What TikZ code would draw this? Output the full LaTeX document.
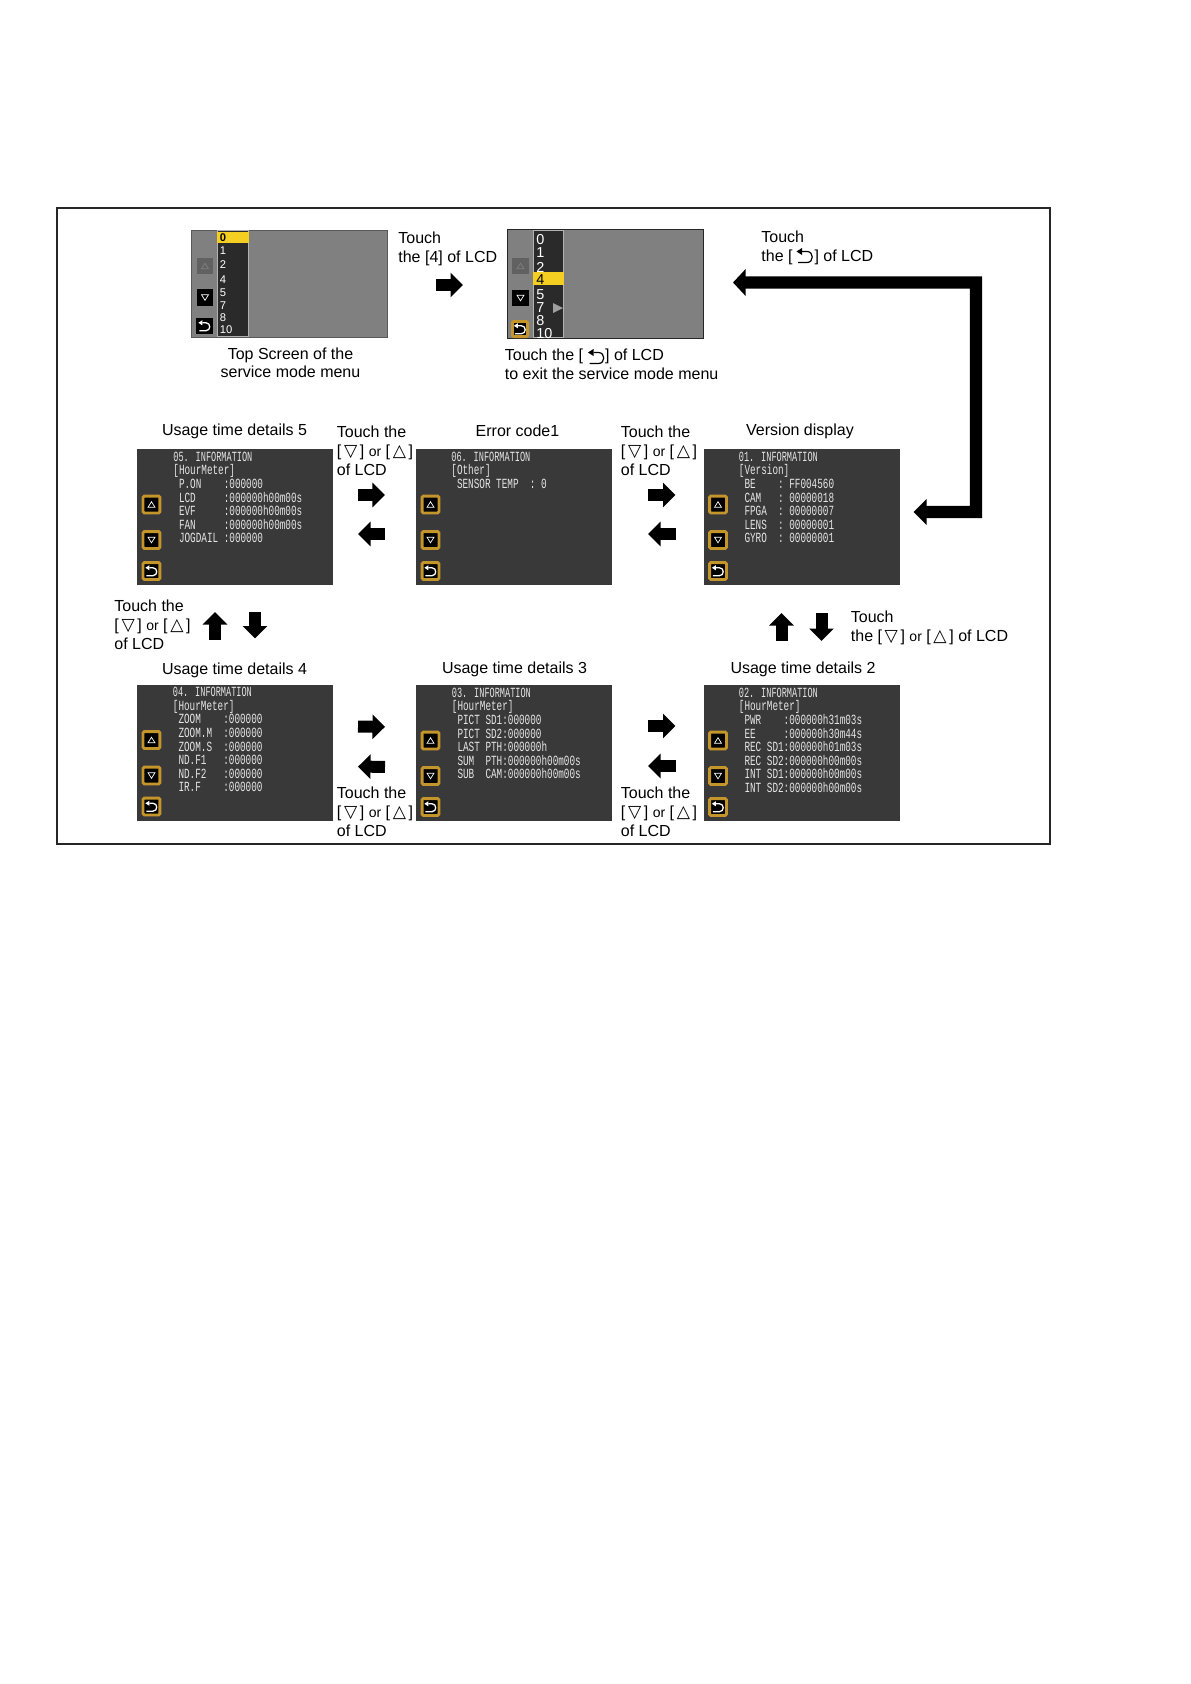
\documentclass[tikz,border=0pt]{standalone}
\usepackage{fontspec}
\setmainfont{Liberation Sans}
\newfontfamily\lcdbody[FakeStretch=0.667]{Liberation Mono}
\newfontfamily\lcdhead[FakeStretch=0.613]{Liberation Mono}
\newfontfamily\symfont{DejaVu Sans}
\usetikzlibrary{arrows.meta}
\definecolor{lcdgray}{HTML}{808080}
\definecolor{lcddark}{HTML}{393939}
\definecolor{lcdlist}{HTML}{2A2A2A}
\definecolor{lcdgold}{HTML}{C4952B}
\definecolor{lcdyellow}{HTML}{F4CF21}
\newcommand{\tridn}{[\,{\symfont\fontsize{8.6bp}{9bp}\selectfont ▽}\,]}
\newcommand{\triup}{[\,{\symfont\fontsize{8.6bp}{9bp}\selectfont △}\,]}
\newcommand{\smallor}{{\fontsize{7bp}{9bp}\selectfont or}}
\tikzset{
  lcdscreen/.style={fill=lcddark,minimum width=98bp,minimum height=68bp,inner sep=0pt,outer sep=0pt},
  menuscreen/.style={fill=lcdgray,line width=0.4bp,minimum width=98bp,inner sep=0pt,outer sep=0pt},
  lcdbtn/.style={fill=black,draw=lcdgold,line width=1.4bp,rounded corners=0.6bp,minimum size=8.4bp,inner sep=0pt,outer sep=0pt},
  menubtn/.style={fill=black,minimum size=8.2bp,inner sep=0pt,outer sep=0pt},
  lcdtext/.style={anchor=north west,align=left,text=white!90!black,inner sep=0pt,font=\lcdbody\fontsize{7bp}{6.8bp}\selectfont},
  menutext/.style={anchor=west,inner sep=0pt,text=white},
  caption/.style={inner sep=0pt,font=\fontsize{8bp}{9.5bp}\selectfont},
  touchtext/.style={caption,anchor=north west,align=left},
  blockarrow/.style={line width=6bp,-{Triangle[length=6.25bp,width=12bp]}},
  upicon/.pic={\draw[pic actions] (-3.5,2.8) -- (3.5,2.8) -- (0,-2.8) -- cycle;},
  dnicon/.pic={\draw[pic actions] (-3.5,-2.8) -- (3.5,-2.8) -- (0,2.8) -- cycle;},
  backicon/.pic={
    \fill[pic actions,draw=none] (-8.5,-4.5) -- (-3,-8) -- (-3,-1) -- cycle;
    \draw[pic actions,fill=none] (-3,-4.5) -- (2,-4.5) .. controls (9,-4.5) and (9,6.5) .. (2,6.5) -- (-7,6.5);
  }
}
\newcommand{\lcdbuttons}[1]{
  \node[lcdbtn] (#1up) at ([shift={(14.5,55.5)}]#1.north west) {};
  \node[lcdbtn] (#1dn) at ([shift={(14.5,91)}]#1.north west) {};
  \node[lcdbtn] (#1bk) at ([shift={(14.5,122)}]#1.north west) {};
  \pic[draw=white,line width=0.35bp] at (#1up) {upicon};
  \pic[draw=white,line width=0.35bp] at (#1dn) {dnicon};
  \pic[draw=white,fill=white,line width=0.65bp,scale=0.72] at (#1bk) {backicon};
}
\begin{document}
\begin{tikzpicture}[x=0.5bp,y=-0.5bp]
\useasboundingbox (0,0) rectangle (1191,1684);
\draw[line width=1bp,black!85] (57,208) rectangle (1050,844);

\node[menuscreen,draw=black!65,minimum height=53.5bp] (ms0) at (289,283.5) {};
\node[menuscreen,draw=black!85,minimum height=54.5bp] (ms1) at (605,283.5) {};

\fill[lcdlist,draw=gray!60,line width=0.5bp] (217,230.5) rectangle (248,336.5);
\fill[lcdyellow] (217,232) rectangle (249,243);
\foreach \lab/\yy in {1/251,2/265,4/279.5,5/293,7/306,8/318,10/330}
  \node[menutext,font=\fontsize{5.6bp}{6bp}\selectfont] (mza\lab) at (219.5,\yy) {\lab};
\node[menutext,text=black,font=\bfseries\fontsize{5.6bp}{6bp}\selectfont] (mza0) at (219.5,238) {0};

\fill[lcdlist,draw=gray!60,line width=0.5bp] (533,230) rectangle (563,337.5);
\fill[lcdyellow] (533,272) rectangle (564,285);
\foreach \lab/\yy in {0/240,1/253,2/267,5/294.5,7/308,8/321,10/333.5}
  \node[menutext,font=\fontsize{7.2bp}{8bp}\selectfont] (mzb\lab) at (536,\yy) {\lab};
\node[menutext,text=black,font=\fontsize{7.2bp}{8bp}\selectfont] (mzb4) at (536,280) {4};
\fill[gray!75] (553,303) -- (563,308) -- (553,313) -- cycle;

\node[menubtn,fill=black!62] (m0up) at (205,266) {};
\node[menubtn] (m0dn) at (205,297.5) {};
\node[menubtn] (m0bk) at (204.5,326) {};
\node[menubtn,fill=black!62] (m1up) at (520.5,266) {};
\node[menubtn] (m1dn) at (520.5,298) {};
\node[lcdbtn,minimum size=7.6bp] (m1bk) at (520,329) {};
\pic[draw=black!50,line width=0.35bp] at (m0up) {upicon};
\pic[draw=white,line width=0.35bp] at (m0dn) {dnicon};
\pic[draw=white,fill=white,line width=0.65bp,scale=0.72] at (m0bk) {backicon};
\pic[draw=black!50,line width=0.35bp] at (m1up) {upicon};
\pic[draw=white,line width=0.35bp] at (m1dn) {dnicon};
\pic[draw=white,fill=white,line width=0.65bp,scale=0.72] at (m1bk) {backicon};

\node[lcdscreen] (s5) at (235,517) {};
\node[lcdscreen] (s6) at (514,517) {};
\node[lcdscreen] (s1) at (801.5,517) {};
\node[lcdscreen] (s4) at (235,752.5) {};
\node[lcdscreen] (s3) at (514,753) {};
\node[lcdscreen] (s2) at (801.5,753) {};
\foreach \scr in {s5,s6,s1,s4,s3,s2} {
  \lcdbuttons{\scr}
}

\node[lcdtext] (s5txt) at ([shift={(36,2.5)}]s5.north west) {{\lcdhead 05. INFORMATION}\\{[}HourMeter]\\~P.ON~~~~:000000\\~LCD~~~~~:000000h00m00s\\~EVF~~~~~:000000h00m00s\\~FAN~~~~~:000000h00m00s\\~JOGDAIL~:000000};
\node[lcdtext] (s6txt) at ([shift={(35,2.5)}]s6.north west) {{\lcdhead 06. INFORMATION}\\{[}Other]\\~SENSOR~TEMP~~:~0};
\node[lcdtext] (s1txt) at ([shift={(35,2.5)}]s1.north west) {{\lcdhead 01. INFORMATION}\\{[}Version]\\~BE~~~~:~FF004560\\~CAM~~~:~00000018\\~FPGA~~:~00000007\\~LENS~~:~00000001\\~GYRO~~:~00000001};
\node[lcdtext] (s4txt) at ([shift={(35.5,2.5)}]s4.north west) {{\lcdhead 04. INFORMATION}\\{[}HourMeter]\\~ZOOM~~~~:000000\\~ZOOM.M~~:000000\\~ZOOM.S~~:000000\\~ND.F1~~~:000000\\~ND.F2~~~:000000\\~IR.F~~~~:000000};
\node[lcdtext] (s3txt) at ([shift={(35.5,2.5)}]s3.north west) {{\lcdhead 03. INFORMATION}\\{[}HourMeter]\\~PICT~SD1:000000\\~PICT~SD2:000000\\~LAST~PTH:000000h\\~SUM~~PTH:000000h00m00s\\~SUB~~CAM:000000h00m00s};
\node[lcdtext] (s2txt) at ([shift={(35,2.5)}]s2.north west) {{\lcdhead 02. INFORMATION}\\{[}HourMeter]\\~PWR~~~~:000000h31m03s\\~EE~~~~~:000000h30m44s\\~REC~SD1:000000h01m03s\\~REC~SD2:000000h00m00s\\~INT~SD1:000000h00m00s\\~INT~SD2:000000h00m00s};

\node[caption] (capms0) at (290.5,363) {\parbox{100bp}{\centering\fontsize{8bp}{9bp}\selectfont Top Screen of the\\service mode menu}};
\node[touchtext] (capms1) at (504.5,348) {Touch the [\hspace{11bp}] of LCD\\to exit the service mode menu};
\node[touchtext] (tch4) at (398,231) {Touch\\the [4] of LCD};
\node[touchtext] (tchbk) at (761,230) {Touch\\the [\hspace{11bp}] of LCD};
\pic[draw=black,fill=black,line width=0.6bp] at (596.5,357) {backicon};
\pic[draw=black,fill=black,line width=0.6bp] at (805,256) {backicon};

\node[caption] (caps5) at (234.5,431) {Usage time details 5};
\node[caption] (caps6) at (517.5,431) {Error code1};
\node[caption] (caps1) at (800,431) {Version display};
\node[caption] (caps4) at (234.5,670) {Usage time details 4};
\node[caption] (caps3) at (514.5,669) {Usage time details 3};
\node[caption] (caps2) at (803,669) {Usage time details 2};

\node[touchtext] (tcha) at (336.5,425) {Touch the\\\tridn{} \smallor{} \triup\\of LCD};
\node[touchtext] (tchb) at (620.5,425) {Touch the\\\tridn{} \smallor{} \triup\\of LCD};
\node[touchtext] (tchc) at (336.5,786) {Touch the\\\tridn{} \smallor{} \triup\\of LCD};
\node[touchtext] (tchd) at (620.5,786) {Touch the\\\tridn{} \smallor{} \triup\\of LCD};
\node[touchtext] (tche) at (114,599) {Touch the\\\tridn{} \smallor{} \triup\\of LCD};
\node[touchtext] (tchf) at (850.5,610) {Touch\\the \tridn{} \smallor{} \triup{} of LCD};

\draw[blockarrow,shorten <=24.5bp,shorten >=22bp] ([yshift=-0.75bp]ms0.east) -- ([yshift=-0.75bp]ms1.west);
\coordinate (elbow) at (976,512);
\draw[line width=6.2bp,{Triangle[length=6.25bp,width=13bp]}-{Triangle[length=6.5bp,width=12.5bp]},shorten <=15bp,shorten >=7bp] ([yshift=0.5bp]ms1.east) -| (elbow) -- ([yshift=2.5bp]s1.east);

\draw[blockarrow,shorten <=12.5bp,shorten >=15.5bp] ([yshift=11bp]s5.east) -- ([yshift=11bp]s6.west);
\draw[blockarrow,shorten <=15.5bp,shorten >=12.5bp] ([yshift=-8.5bp]s6.west) -- ([yshift=-8.5bp]s5.east);
\draw[blockarrow,shorten <=18bp,shorten >=14bp] ([yshift=11bp]s6.east) -- ([yshift=11bp]s1.west);
\draw[blockarrow,shorten <=14bp,shorten >=18bp] ([yshift=-8.5bp]s1.west) -- ([yshift=-8.5bp]s6.east);
\draw[blockarrow,shorten <=12.5bp,shorten >=15.5bp] ([yshift=13bp]s4.east) -- ([yshift=13bp]s3.west);
\draw[blockarrow,shorten <=15.5bp,shorten >=12.5bp] ([yshift=-7bp]s3.west) -- ([yshift=-7bp]s4.east);
\draw[blockarrow,shorten <=18bp,shorten >=14bp] ([yshift=13.5bp]s3.east) -- ([yshift=13.5bp]s2.west);
\draw[blockarrow,shorten <=14bp,shorten >=18bp] ([yshift=-6.5bp]s2.west) -- ([yshift=-6.5bp]s3.east);

\draw[blockarrow,shorten <=22.5bp,shorten >=13.5bp] ([xshift=-10bp]s4.north) -- ([xshift=-10bp]s5.south);
\draw[blockarrow,shorten <=13.5bp,shorten >=23bp] ([xshift=10bp]s5.south) -- ([xshift=10bp]s4.north);
\draw[blockarrow,shorten <=22bp,shorten >=14bp] ([xshift=-10bp]s2.north) -- ([xshift=-10bp]s1.south);
\draw[blockarrow,shorten <=14bp,shorten >=22bp] ([xshift=10bp]s1.south) -- ([xshift=10bp]s2.north);
\end{tikzpicture}
\end{document}
